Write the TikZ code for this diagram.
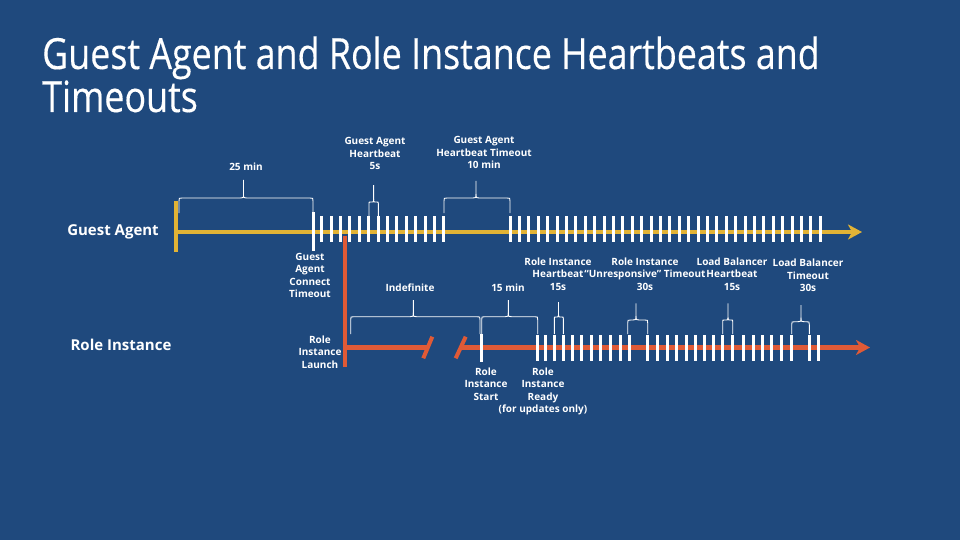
\documentclass[tikz,border=0pt]{standalone}
\usepackage{fontspec}
\setmainfont{Open Sans}
\newfontfamily\titlefont[FakeStretch=0.833,FakeBold=0.3]{Open Sans}
\usetikzlibrary{arrows.meta}
\definecolor{bgblue}{HTML}{1F497D}
\definecolor{gagold}{HTML}{E2B335}
\definecolor{rired}{HTML}{E05A36}
% brace: x1, x2, xmid, ybottom, yhoriz, ytop, corner
\newcommand\tlbrace[7]{%
  \draw[bracel] (#1,#4) -- (#1,#5+#7) .. controls (#1,#5) .. (#1+#7,#5)
     -- (#3-#7,#5) .. controls (#3,#5) .. (#3,#5-#7-1) -- (#3,#6);
  \draw[bracel] (#2,#4) -- (#2,#5+#7) .. controls (#2,#5) .. (#2-#7,#5)
     -- (#3+#7,#5) .. controls (#3,#5) .. (#3,#5-#7-1);
}
\begin{document}
\begin{tikzpicture}[x=1pt,y=-1pt,
  titletext/.style={anchor=base west, inner sep=0, text=white, font=\titlefont\fontsize{43}{43}\selectfont},
  rowlabel/.style={inner sep=0, text=white, font=\bfseries\fontsize{15}{18}\selectfont},
  smalllabel/.style={inner sep=0, text=white, align=center, font=\bfseries\fontsize{10}{12.5}\selectfont},
  bracel/.style={draw=white, line width=0.9pt},
  tickmark/.style={draw=white, line width=3pt},
  galine/.style={draw=gagold, line width=4pt},
  riline/.style={draw=rired, line width=4.3pt},
  tip/.style={-{Stealth[length=14pt,width=15pt,inset=4pt]}}]
\useasboundingbox (0,0) rectangle (960,540);
\fill[bgblue] (0,0) rectangle (960,540);

% title
\node[titletext] (t1) at (42,69) {Guest Agent and Role Instance Heartbeats and};
\node[titletext] (t2) at (42,112) {Timeouts};

% row labels
\node[rowlabel] (lga) at (113,231.5) {Guest Agent};
\node[rowlabel] (lri) at (121,345) {Role Instance};

% guest agent timeline
\coordinate (gaTop) at (176,200.5);
\coordinate (gaBot) at (176,251.5);
\coordinate (gaStart) at (176,232);
\coordinate (gaEnd) at (862,232);
\draw[galine] (gaTop) -- (gaBot);
\draw[galine, tip] (gaStart) -- (gaEnd);

% role instance timeline
\coordinate (riTop) at (345,235.5);
\coordinate (riBot) at (345,367);
\coordinate (riStart) at (345,347.5);
\coordinate (riBreakA) at (428,347.5);
\coordinate (riBreakB) at (460,347.5);
\coordinate (riEnd) at (870,347.5);
\draw[riline] (riTop) -- (riBot);
\draw[riline] (riStart) -- (riBreakA);
\draw[riline, tip] (riBreakB) -- (riEnd);
\draw[draw=rired, line width=4pt] (423.3,358.3) -- (432.3,336.7);
\draw[draw=rired, line width=4pt] (455.7,358.3) -- (465.7,336.7);

% top ticks
\draw[tickmark] (313,212) -- (313,251);
\foreach \i in {0,...,13} \draw[tickmark] (321.7+9.4*\i,216) -- (321.7+9.4*\i,242);
\foreach \i in {0,...,33} \draw[tickmark] (510+9.4*\i,216) -- (510+9.4*\i,242);

% bottom ticks
\draw[tickmark] (481.7,334) -- (481.7,362);
\foreach \x in {537.7,545.5,554.3,563.3,572.7,581.7,591,600,610,620,629.3,
                647.7,657,667.3,676.7,686,695,704,713.3,722.7,732.7,743.3,753.3,762.7,771.7,781,791.7,
                809.3,818.3}
  \draw[tickmark] (\x,335) -- (\x,361);

% braces (top)
\tlbrace{179}{313}{243.5}{213}{198}{180}{3}
\tlbrace{369}{378.3}{373.6}{216}{202}{185}{1.5}
\tlbrace{444}{510}{476}{213}{198}{181}{3}
% braces (bottom)
\tlbrace{350.7}{480}{413.3}{334}{316.7}{300}{3}
\tlbrace{481.7}{537.7}{508.3}{334}{316.7}{300}{3}
\tlbrace{554.3}{563.3}{558.5}{334}{317}{302}{1.5}
\tlbrace{627.7}{647.7}{636}{334}{320}{303.3}{3}
\tlbrace{722.7}{732.7}{728}{334}{320}{303.3}{1.5}
\tlbrace{791.7}{809.3}{801}{334}{321.7}{305}{3}

% labels (top)
\node[smalllabel] (l25) at (246,167) {25 min};
\node[smalllabel, anchor=north] (lgahb) at (375,137.5) {Guest Agent\\Heartbeat\\5s};
\node[smalllabel, anchor=north] (lgato) at (484,136.5) {Guest Agent\\Heartbeat Timeout\\10 min};
\node[smalllabel, anchor=north] (lgact) at (310,253) {Guest\\Agent\\Connect\\Timeout};
\node[smalllabel, anchor=north] (lril) at (320,335.5) {Role\\Instance\\Launch};
% labels (bottom)
\node[smalllabel] (lind) at (410,288) {Indefinite};
\node[smalllabel] (l15) at (508,288) {15 min};
\node[smalllabel, anchor=north] (lrihb) at (558,257.5) {Role Instance\\Heartbeat\\15s};
\node[smalllabel, anchor=north] (lriun) at (645,257.5) {Role Instance\\“Unresponsive” Timeout\\30s};
\node[smalllabel, anchor=north] (llbhb) at (732,257.5) {Load Balancer\\Heartbeat\\15s};
\node[smalllabel, anchor=north] (llbto) at (808,259) {Load Balancer\\Timeout\\30s};
\node[smalllabel, anchor=north] (lris) at (486,367.5) {Role\\Instance\\Start};
\node[smalllabel, anchor=north] (lrir) at (543,367.5) {Role\\Instance\\Ready\\(for updates only)};
\end{tikzpicture}
\end{document}
